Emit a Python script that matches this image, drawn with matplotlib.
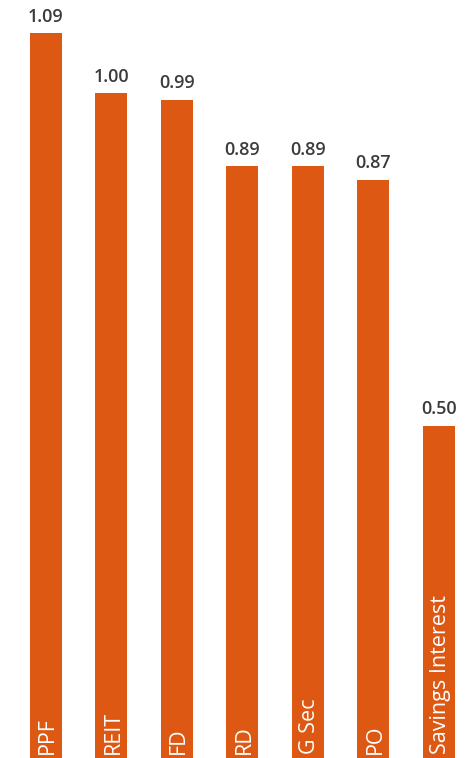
import matplotlib.pyplot as plt

# returns per category
categories = ["PPF", "REIT", "FD", "RD", "G Sec", "PO", "Savings Interest"]
values = [1.09, 1.00, 0.99, 0.89, 0.89, 0.87, 0.50]

fig = plt.figure(figsize=(4.71, 7.58), dpi=100)
ax = fig.add_axes([0, 0, 1, 1])

x = range(len(categories))
bars = ax.bar(x, values, width=0.49, color="#DD5813")

for i, (name, v) in enumerate(zip(categories, values)):
    # value above each bar
    ax.text(i, v + 0.011, f"{v:.2f}", ha="center", va="bottom",
            fontsize=13, color="#3b3b3b", fontweight="semibold",
            family="Open Sans")
    # name written up the bar from its base
    ax.text(i + 0.03, 0.006, name, rotation=90, ha="center", va="bottom",
            fontsize=15.5, color="white", family="Open Sans")

ax.set_xlim(-0.70, 6.49)
ax.set_ylim(0, 1.14)
ax.axis("off")

fig.savefig("out.png", dpi=100)
